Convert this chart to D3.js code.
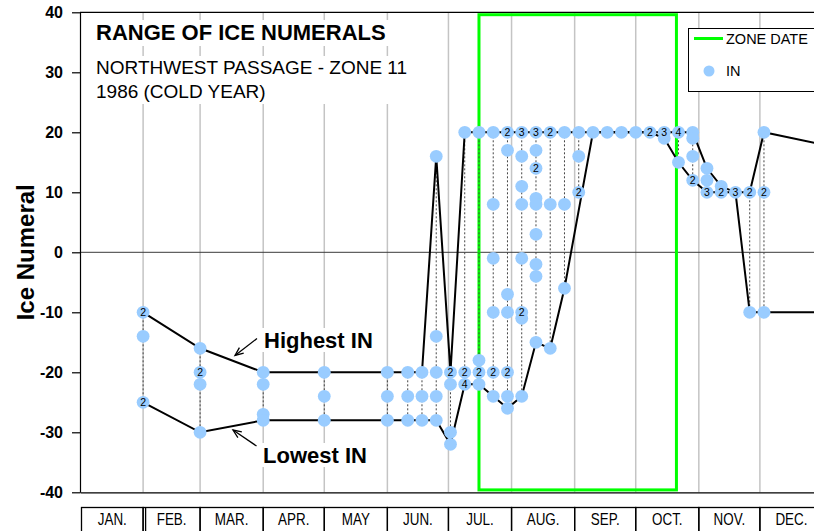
<!DOCTYPE html>
<html><head><meta charset="utf-8">
<script src="https://cdn.jsdelivr.net/npm/d3@7"></script>
<style>body{margin:0;background:#fff}svg{display:block;font-family:"Liberation Sans",Arial,sans-serif}</style>
</head><body><svg id="c" width="814" height="531"></svg>
<script>
// ---------- data ----------
const months = ["JAN.","FEB.","MAR.","APR.","MAY","JUN.","JUL.","AUG.","SEP.","OCT.","NOV.","DEC."];
const yTicks = [-40,-30,-20,-10,0,10,20,30,40];
const zoneDates = ["1986-07-16","1986-10-21"];
const obsDates = ["1986-02-01","1986-03-01","1986-04-01","1986-05-01","1986-06-01","1986-06-11","1986-06-18","1986-06-25",
  "1986-07-02","1986-07-09","1986-07-16","1986-07-23","1986-07-30","1986-08-06","1986-08-13","1986-08-20","1986-08-27",
  "1986-09-03","1986-09-10","1986-09-17","1986-09-24","1986-10-01","1986-10-08","1986-10-15","1986-10-22","1986-10-29",
  "1986-11-05","1986-11-12","1986-11-19","1986-11-26","1986-12-03"];
const obsValues = [
  [-10,-10,-14,-25,-25],
  [-16,-20,-20,-22,-30],
  [-20,-22,-27,-28],
  [-20,-24,-28],
  [-20,-24,-28],
  [-20,-24,-28],
  [-20,-24,-28],
  [16,-14,-20,-24,-28],
  [-20,-20,-22,-30,-32],
  [20,-20,-20,-22,-22,-22,-22],
  [20,-18,-20,-20,-22],
  [20,8,-1,-10,-20,-20,-24],
  [20,20,17,-7,-10,-20,-20,-24,-26],
  [20,20,20,16,11,8,-1,-10,-10,-11,-24],
  [20,20,20,17,14,14,9,8,3,-2,-4,-15],
  [20,20,8,-16],
  [20,8,-6],
  [20,16,10,10],
  [20],
  [20],
  [20],
  [20],
  [20,20],
  [20,20,20,19],
  [20,20,20,20,15],
  [20,19,16,12,12],
  [14,12,10,10,10],
  [11,10,10],
  [10,10,10],
  [10,10,-10],
  [20,10,10,-10]
];
const highDates = obsDates.concat(["1986-12-31"]);
const highValues = [-10,-16,-20,-20,-20,-20,-20,16,-20,20,
  20,20,20,20,20,20,20,20,20,20,20,20,20,20,20,20,
  14,11,10,10,20,18];
const lowDates = obsDates.filter(d => d !== "1986-09-03").concat(["1986-12-31"]);
const lowValues = [-25,-30,-28,-28,-28,-28,-28,-28,-32,-22,-22,-24,-26,-24,-15,-16,-6,
  20,20,20,20,20,19,15,12,10,10,10,-10,-10,-10];

// ---------- setup ----------
const parse = d3.utcParse("%Y-%m-%d");
const svg = d3.select("#c");
const x = d3.scaleUtc().domain([parse("1986-01-01"), parse("1987-01-01")]).range([80, 823]);
const y = d3.scaleLinear().domain([-40, 40]).range([492.3, 12.3]);
const FILL = "#99CCFF";

// month gridlines
const monthStarts = d3.utcMonth.range(parse("1986-01-01"), parse("1987-01-01"));
svg.append("g").selectAll("line").data(monthStarts.slice(1)).join("line")
  .attr("x1", d => x(d)).attr("x2", d => x(d))
  .attr("y1", y(40)).attr("y2", y(-40))
  .attr("stroke", "#c4c4c4").attr("stroke-width", 1.5);

// zero line
svg.append("line").attr("x1", x.range()[0]).attr("x2", x.range()[1])
  .attr("y1", y(0)).attr("y2", y(0)).attr("stroke", "#3a3a3a").attr("stroke-width", 1);

// frame top
svg.append("line").attr("x1", 80).attr("x2", 823).attr("y1", y(40)).attr("y2", y(40))
  .attr("stroke", "#000").attr("stroke-width", 1.2);

// axes
const yAxis = svg.append("g").attr("transform", "translate(80,0)")
  .call(d3.axisLeft(y).tickValues(yTicks).tickFormat(d => String(d)).tickSize(8).tickSizeOuter(0).tickPadding(9));
yAxis.selectAll("text").attr("font-size", 16).attr("font-weight", "bold")
  .attr("font-family", "Liberation Sans, Arial, sans-serif").attr("fill", "#000");
yAxis.selectAll("line,path").attr("stroke", "#000").attr("stroke-width", 1.2);
svg.append("g").attr("transform", `translate(0,${y(-40)})`)
  .call(d3.axisBottom(x).tickValues([]).tickSizeOuter(0))
  .selectAll("path").attr("stroke", "#000").attr("stroke-width", 1.2);

svg.append("text").attr("transform", `translate(34,${y(0)}) rotate(-90)`)
  .attr("text-anchor", "middle").attr("font-size", 24).attr("font-weight", "bold").text("Ice Numeral");

// zone rectangle
svg.append("rect")
  .attr("x", x(parse(zoneDates[0]))).attr("y", y(39.6))
  .attr("width", x(parse(zoneDates[1])) - x(parse(zoneDates[0])))
  .attr("height", y(-39.6) - y(39.6))
  .attr("fill", "none").attr("stroke", "#00FF00").attr("stroke-width", 3);

// title block with white backgrounds
const tb = svg.append("g");
tb.append("rect").attr("x", 90).attr("y", 20).attr("width", 305).attr("height", 26).attr("fill", "#fff");
tb.append("rect").attr("x", 90).attr("y", 56).attr("width", 326).attr("height", 48).attr("fill", "#fff");
tb.append("text").attr("x", 96).attr("y", 40).attr("font-size", 22).attr("font-weight", "bold").text("RANGE OF ICE NUMERALS");
tb.append("text").attr("x", 96).attr("y", 74).attr("font-size", 19).text("NORTHWEST PASSAGE - ZONE 11");
tb.append("text").attr("x", 96).attr("y", 98).attr("font-size", 19).text("1986 (COLD YEAR)");

// build observation groups
const obs = obsDates.map((d, i) => {
  const vals = obsValues[i];
  const counts = d3.rollups(vals, v => v.length, v => v).map(([v, n]) => ({v, n}));
  return {date: parse(d), vals, counts, max: d3.max(vals), min: d3.min(vals)};
});

// dotted verticals
svg.append("g").selectAll("line").data(obs.filter(o => o.max !== o.min)).join("line")
  .attr("x1", o => x(o.date)).attr("x2", o => x(o.date))
  .attr("y1", o => y(o.max)).attr("y2", o => y(o.min))
  .attr("stroke", "#444").attr("stroke-width", 1).attr("stroke-dasharray", "2,2");

// highest / lowest lines
const lineGen = d3.line().x(d => x(d[0])).y(d => y(d[1]));
svg.append("path").datum(highDates.map((d, i) => [parse(d), highValues[i]]))
  .attr("d", lineGen).attr("fill", "none").attr("stroke", "#000").attr("stroke-width", 2);
svg.append("path").datum(lowDates.map((d, i) => [parse(d), lowValues[i]]))
  .attr("d", lineGen).attr("fill", "none").attr("stroke", "#000").attr("stroke-width", 2);

// points
const pts = obs.flatMap(o => o.counts.map(c => ({date: o.date, v: c.v, n: c.n})));
svg.append("g").selectAll("circle").data(pts).join("circle")
  .attr("cx", p => x(p.date)).attr("cy", p => y(p.v)).attr("r", 6.4).attr("fill", FILL);
svg.append("g").selectAll("text").data(pts.filter(p => p.n > 1)).join("text")
  .attr("x", p => x(p.date)).attr("y", p => y(p.v) + 3.8)
  .attr("text-anchor", "middle").attr("font-size", 10.5).attr("fill", "#000").text(p => p.n);

// annotations
function arrow(x1, y1, x2, y2) {
  const g = svg.append("g").attr("stroke", "#000").attr("stroke-width", 1.3).attr("fill", "none");
  g.append("line").attr("x1", x1).attr("y1", y1).attr("x2", x2).attr("y2", y2);
  const a = Math.atan2(y2 - y1, x2 - x1), L = 9, s = 0.4;
  g.append("path").attr("d",
    `M${x2 - L * Math.cos(a - s)},${y2 - L * Math.sin(a - s)} L${x2},${y2} L${x2 - L * Math.cos(a + s)},${y2 - L * Math.sin(a + s)}`);
}
svg.append("rect").attr("x", 262).attr("y", 328).attr("width", 114).attr("height", 24).attr("fill", "#fff");
svg.append("text").attr("x", 264).attr("y", 348).attr("font-size", 22).attr("font-weight", "bold").text("Highest IN");
arrow(257, 338.5, 235, 355.5);
svg.append("rect").attr("x", 261).attr("y", 443).attr("width", 108).attr("height", 24).attr("fill", "#fff");
svg.append("text").attr("x", 263).attr("y", 463).attr("font-size", 22).attr("font-weight", "bold").text("Lowest IN");
arrow(256.5, 446, 233, 430);

// legend
const lg = svg.append("g");
lg.append("rect").attr("x", 688.5).attr("y", 28.5).attr("width", 140).attr("height", 63)
  .attr("fill", "#fff").attr("stroke", "#000").attr("stroke-width", 1);
lg.append("line").attr("x1", 694).attr("x2", 723).attr("y1", 38.5).attr("y2", 38.5)
  .attr("stroke", "#00FF00").attr("stroke-width", 3);
lg.append("text").attr("x", 726).attr("y", 44).attr("font-size", 14.5).text("ZONE DATE");
lg.append("circle").attr("cx", 709).attr("cy", 71).attr("r", 5.5).attr("fill", FILL);
lg.append("text").attr("x", 726).attr("y", 75.5).attr("font-size", 14.5).text("IN");

// month boxes
const mb = svg.append("g");
const boxTop = 507.5;
monthStarts.forEach((m, i) => {
  const x0 = i === 0 ? 81.5 : x(m);
  const x1 = x(d3.utcMonth.offset(m, 1));
  mb.append("rect").attr("x", x0).attr("y", boxTop).attr("width", x1 - x0).attr("height", 40)
    .attr("fill", "none").attr("stroke", "#000").attr("stroke-width", 1.3);
  mb.append("text").attr("transform", `translate(${(x0 + x1) / 2},524.5) scale(0.84,1)`)
    .attr("text-anchor", "middle").attr("font-size", 16).text(months[i]);
});
mb.append("line").attr("x1", x(monthStarts[1]) + 2.5).attr("x2", x(monthStarts[1]) + 2.5)
  .attr("y1", boxTop).attr("y2", 540).attr("stroke", "#000").attr("stroke-width", 1.3);
</script></body></html>
